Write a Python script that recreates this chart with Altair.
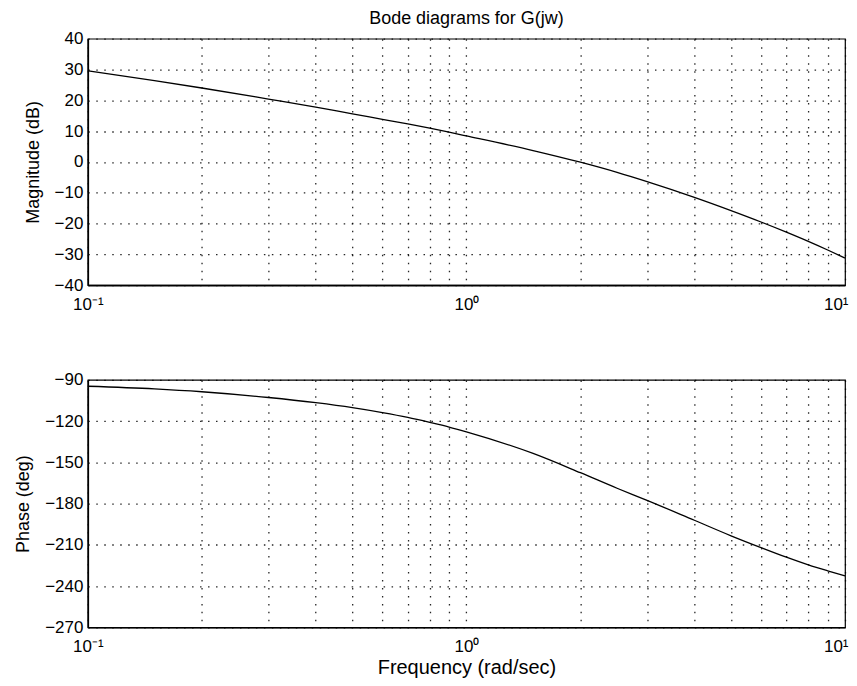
import altair as alt
import pandas as pd

freq = [0.1, 0.15, 0.2, 0.3, 0.4, 0.5, 0.6, 0.7, 0.8, 0.9, 1.0, 1.5, 2.0, 2.5, 3.0, 4.0, 5.0, 6.0, 7.0, 8.0, 9.0, 10.0]
magnitude_db = [29.6, 26.4, 24.0, 20.4, 17.8, 15.6, 13.85, 12.35, 10.95, 9.65, 8.45, 3.7, -0.1, -3.4, -6.4, -11.5, -15.8, -19.5, -22.8, -25.8, -28.6, -31.2]
phase_deg = [-94.6, -96.5, -98.6, -102.8, -106.6, -110.2, -113.8, -117.3, -120.9, -124.3, -127.8, -143.5, -157.5, -168.8, -177.6, -192.1, -203.4, -212.0, -219.0, -224.6, -228.9, -232.5]

x_grid = [0.1, 0.2, 0.3, 0.4, 0.5, 0.6, 0.7, 0.8, 0.9, 1, 2, 3, 4, 5, 6, 7, 8, 9, 10]
mag_ticks = [-40, -30, -20, -10, 0, 10, 20, 30, 40]
phase_ticks = [-270, -240, -210, -180, -150, -120, -90]

df = pd.DataFrame({"freq": freq, "mag": magnitude_db, "phase": phase_deg})

FONT = "Liberation Sans"
x_label_expr = ("datum.value < 0.15 ? '10\u207b\u00b9' : "
                "(datum.value > 0.95 && datum.value < 1.05) ? '10\u2070' : "
                "datum.value > 9.5 ? '10\u00b9' : ''")
y_label_expr = "replace(datum.label, '-', '\u2212')"


def x_axis(title=None):
    return alt.Axis(
        values=x_grid, labelExpr=x_label_expr, grid=True, ticks=False,
        labelFlush=False, labelOverlap=False, labelPadding=11,
        labelFontSize=17, titleFontSize=20, titlePadding=3,
        titleFontWeight="normal", title=title,
        labelAlign={"condition": {"test": "datum.value > 9.5", "value": "right"}, "value": "center"},
        labelOffset={"condition": {"test": "datum.value > 9.5", "value": 3}, "value": 0},
    )


def y_axis(values, title):
    return alt.Axis(values=values, title=title, grid=True, ticks=False,
                    labelPadding=5, labelFontSize=17, titleFontSize=18,
                    titlePadding=12, titleFontWeight="normal",
                    labelExpr=y_label_expr, labelFlush=False, labelOverlap=False)


xs = alt.Scale(type="log", domain=[0.1, 10], nice=False)

top = alt.Chart(df).mark_line(color="black", strokeWidth=1.3, interpolate="monotone").encode(
    x=alt.X("freq:Q", scale=xs, axis=x_axis()),
    y=alt.Y("mag:Q", scale=alt.Scale(domain=[-40, 40], nice=False),
            axis=y_axis(mag_ticks, "Magnitude (dB)")),
).properties(
    width=759, height=247,
    title=alt.TitleParams("Bode diagrams for G(jw)", fontSize=18,
                          fontWeight="normal", font=FONT, offset=2),
)

bottom = alt.Chart(df).mark_line(color="black", strokeWidth=1.3, interpolate="monotone").encode(
    x=alt.X("freq:Q", scale=xs, axis=x_axis("Frequency (rad/sec)")),
    y=alt.Y("phase:Q", scale=alt.Scale(domain=[-270, -90], nice=False),
            axis=y_axis(phase_ticks, "Phase (deg)")),
).properties(width=759, height=248)

chart = alt.vconcat(top, bottom, spacing=57).resolve_scale(x="independent").properties(
    padding={"left": 6, "top": 0, "right": 0, "bottom": 0},
    background="white",
).configure_view(
    stroke="black", strokeWidth=1.2
).configure_axis(
    labelFont=FONT, titleFont=FONT, labelColor="black", titleColor="black",
    domainColor="black", domainWidth=1.6,
    gridColor="black", gridDash=[1.5, 6.5], gridWidth=1.3, gridOpacity=0.85,
)

chart.save("out.html", embed_options={"renderer": "svg", "actions": False})
